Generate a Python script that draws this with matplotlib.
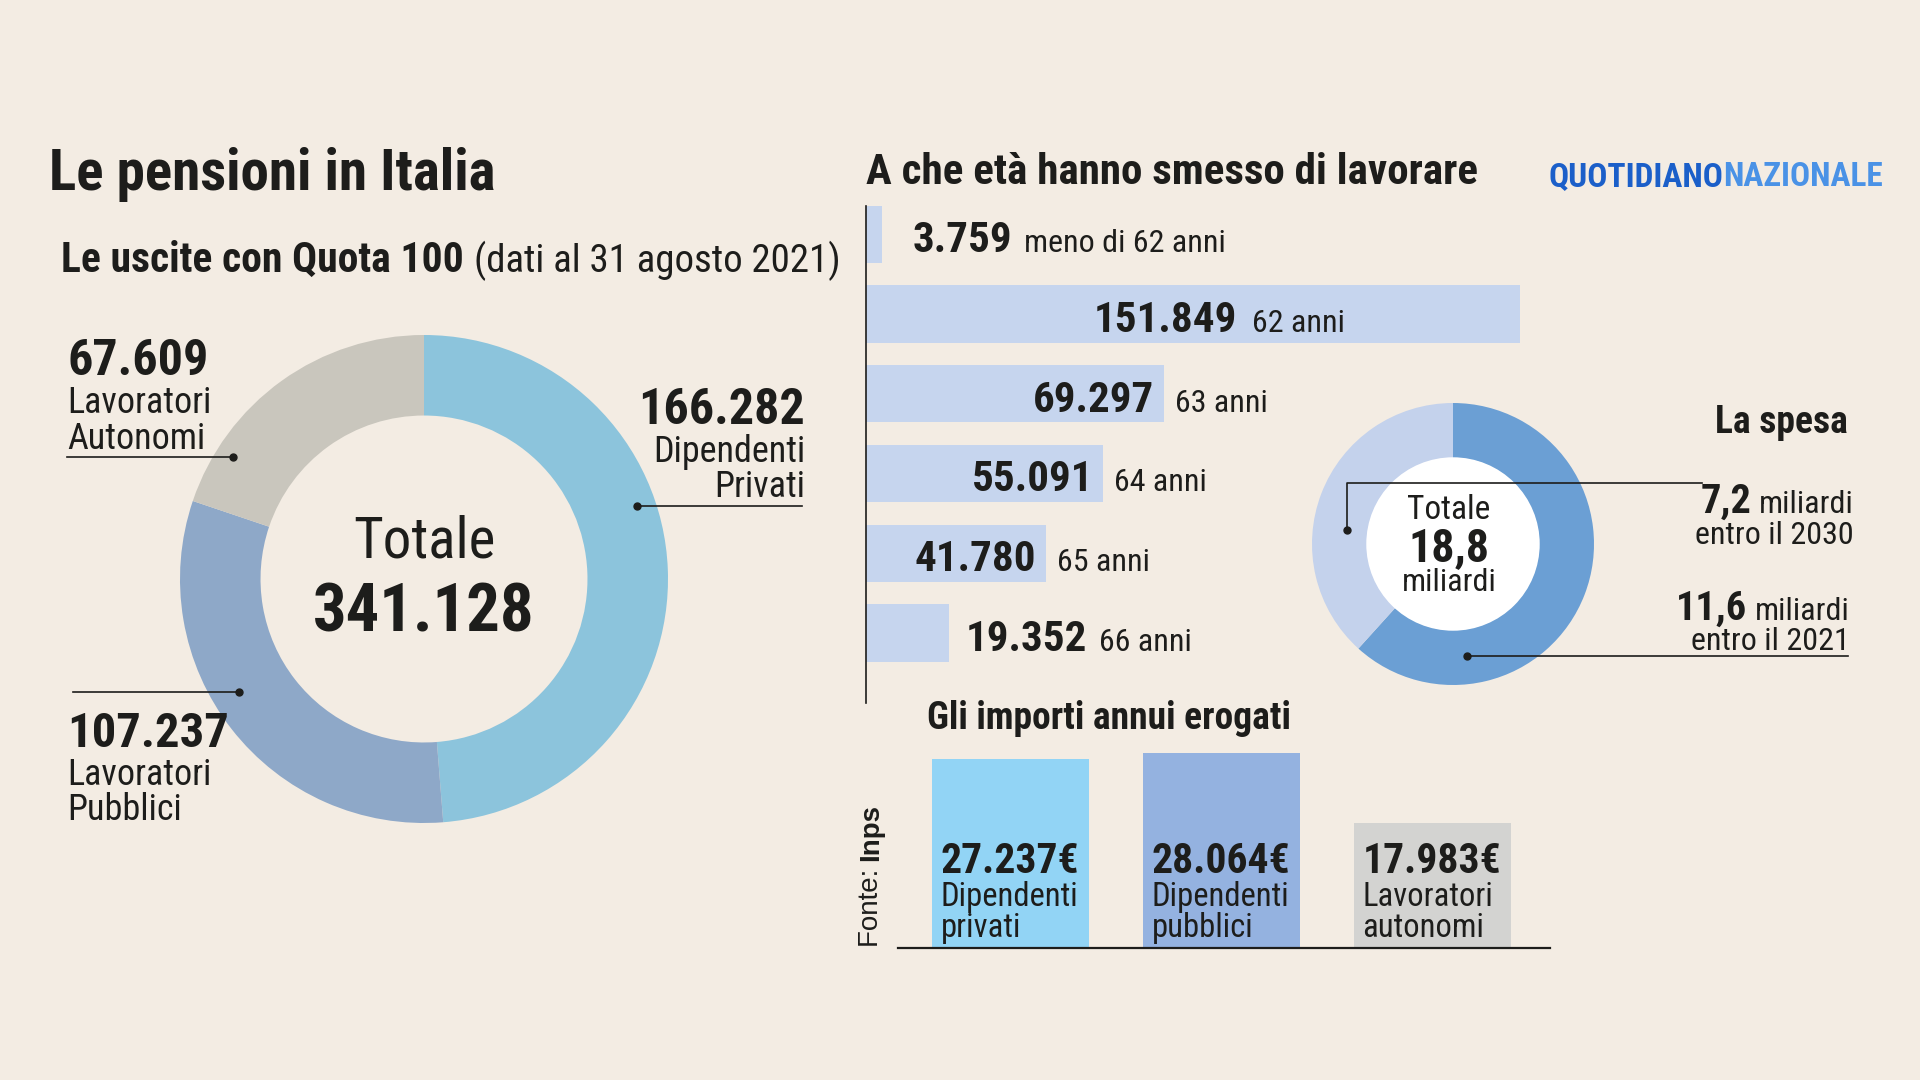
import matplotlib
matplotlib.use('Agg')
import matplotlib.pyplot as plt
import matplotlib.transforms as mtrans
from matplotlib.lines import Line2D
from matplotlib import font_manager as fm

W, H = 1920, 1080
BG = '#f3ece3'
INK = '#1d1d1b'

# Quota 100 exits by category
cat_names = [('Dipendenti', 'Privati'), ('Lavoratori', 'Pubblici'), ('Lavoratori', 'Autonomi')]
cat_values = [166282, 107237, 67609]
cat_colors = ['#8cc4dc', '#8ea8c8', '#c9c6bd']
cat_total = 341128

# age at retirement
age_labels = ['meno di 62 anni', '62 anni', '63 anni', '64 anni', '65 anni', '66 anni']
age_values = [3759, 151849, 69297, 55091, 41780, 19352]

# spending (billions)
spesa_values = [11.6, 7.2]
spesa_when = ['entro il 2021', 'entro il 2030']
spesa_total = 18.8

# yearly amounts
imp_values = [27237, 28064, 17983]
imp_names = [('Dipendenti', 'privati'), ('Dipendenti', 'pubblici'), ('Lavoratori', 'autonomi')]
imp_colors = ['#92d4f5', '#94b2e0', '#d3d3d1']


def it(v):
    return f'{v:,}'.replace(',', '.')


names = {f.name for f in fm.fontManager.ttflist}
NARROW = next((n for n in ['Liberation Sans Narrow', 'Roboto Condensed', 'Open Sans Condensed']
               if n in names), 'Roboto')
PLAIN = 'Liberation Sans'

fig = plt.figure(figsize=(W / 100, H / 100), dpi=100)
fig.patch.set_facecolor(BG)
R = fig.canvas.get_renderer()


def ftext(x, y, s, size, bold=False, ha='left', color=INK, family=None, **kw):
    return fig.text(x / W, 1 - y / H, s, fontsize=size, fontweight='bold' if bold else 'normal',
                    ha=ha, va='baseline', color=color, family=family or NARROW, **kw)


def pair(x, y, s1, s2, size1, size2, ha='left', gap=8):
    # bold part + regular part on one baseline
    if ha == 'left':
        t = ftext(x, y, s1, size1, True)
        x1 = t.get_window_extent(R).x1
        ftext(x1 + gap, y, s2, size2)
    else:
        t = ftext(x, y, s2, size2, ha='right')
        x0 = t.get_window_extent(R).x0
        ftext(x0 - gap, y, s1, size1, True, ha='right')


def leader(xs, ys, dot):
    fig.add_artist(Line2D([x / W for x in xs], [1 - y / H for y in ys], color=INK, lw=1.2))
    fig.add_artist(Line2D([dot[0] / W], [1 - dot[1] / H], marker='o', ms=5, color=INK, lw=0))


def add_axes(x0, y0, x1, y1):
    a = fig.add_axes([x0 / W, 1 - y1 / H, (x1 - x0) / W, (y1 - y0) / H])
    a.patch.set_alpha(0)
    return a


# ---- titles
ftext(49, 190, 'Le pensioni in Italia', 41, True)
pair(61, 272, 'Le uscite con Quota 100', '(dati al 31 agosto 2021)', 30, 28, gap=10)
ftext(866, 184, 'A che età hanno smesso di lavorare', 31, True)
t = ftext(1883, 186, 'NAZIONALE', 24, True, ha='right', color='#4a92e6')
ftext(t.get_window_extent(R).x0, 186, 'QUOTIDIANO', 24, True, ha='right', color='#1b5fc9')

# ---- left donut
cx, cy, r = 424, 579, 244
ax1 = add_axes(cx - r, cy - r, cx + r, cy + r)
ax1.pie(cat_values, colors=cat_colors, startangle=90, counterclock=False, radius=1,
        wedgeprops=dict(width=0.33, linewidth=0))
ax1.set_xlim(-1, 1)
ax1.set_ylim(-1, 1)
ax1.axis('off')
ftext(cx, 557, 'Totale', 41, ha='center')
ftext(cx, 631, it(cat_total), 48, True, ha='center')

# Dipendenti Privati (right)
ftext(805, 424, it(cat_values[0]), 36, True, ha='right')
ftext(805, 462, cat_names[0][0], 26, ha='right')
ftext(805, 497, cat_names[0][1], 26, ha='right')
leader([637, 802], [506, 506], (637, 506))
# Lavoratori Pubblici (lower left)
ftext(67, 747, it(cat_values[1]), 35, True)
ftext(67, 785, cat_names[1][0], 26)
ftext(67, 820, cat_names[1][1], 26)
leader([73, 239], [692, 692], (239, 692))
# Lavoratori Autonomi (upper left)
ftext(67, 375, it(cat_values[2]), 36, True)
ftext(67, 413, cat_names[2][0], 26)
ftext(67, 449, cat_names[2][1], 26)
leader([67, 233], [457, 457], (233, 457))

# ---- horizontal bars: age
ax3 = add_axes(866, 206, 866 + 689, 703)
ypos = list(range(len(age_values)))
ax3.barh(ypos, age_values, height=0.72, color='#c6d5ee', linewidth=0)
ax3.set_xlim(0, 160000)
ax3.set_ylim(len(age_values) - 0.125, -0.35)
ax3.set_xticks([])
ax3.set_yticks([])
for s in ['top', 'right', 'bottom']:
    ax3.spines[s].set_visible(False)
ax3.spines['left'].set_color(INK)
ax3.spines['left'].set_linewidth(1.2)

vmax = max(age_values)
num_kw = dict(va='baseline', fontsize=31, fontweight='bold', family=NARROW, color=INK)
for i, (v, lab) in enumerate(zip(age_values, age_labels)):
    if v == vmax:
        tr = mtrans.offset_copy(ax3.transData, fig=fig, x=0, y=-18, units='dots')
        t = ax3.text(v * 0.567, i, it(v), transform=tr, ha='right', **num_kw)
        lx = t.get_window_extent(R).x1 + 15
    elif v > 25000:
        tr = mtrans.offset_copy(ax3.transData, fig=fig, x=-10, y=-18, units='dots')
        t = ax3.text(v, i, it(v), transform=tr, ha='right', **num_kw)
        lx = ax3.transData.transform((v, i))[0] + 11
    else:
        pad = 30 if v < 10000 else 16
        tr = mtrans.offset_copy(ax3.transData, fig=fig, x=pad, y=-18, units='dots')
        t = ax3.text(v, i, it(v), transform=tr, ha='left', **num_kw)
        lx = t.get_window_extent(R).x1 + 12
    yb = ax3.transData.transform((0, i))[1] - 18
    fig.text(lx, yb, lab, transform=mtrans.IdentityTransform(), fontsize=23,
             family=NARROW, color=INK, va='baseline')

# ---- right donut: spending
dx, dy, dr = 1453, 544, 141
ax2 = add_axes(dx - dr, dy - dr, dx + dr, dy + dr)
ax2.pie(spesa_values, colors=['#6b9fd4', '#c4d2ec'], startangle=90, counterclock=False,
        radius=1, wedgeprops=dict(width=0.39, linewidth=0))
ax2.add_patch(plt.Circle((0, 0), 0.615, color='white', lw=0))
ax2.set_xlim(-1, 1)
ax2.set_ylim(-1, 1)
ax2.axis('off')
ftext(1449, 519, 'Totale', 24, ha='center')
ftext(1449, 561, f'{spesa_total:.1f}'.replace('.', ','), 33, True, ha='center')
ftext(1449, 591, 'miliardi', 23, ha='center')

ftext(1848, 433, 'La spesa', 27, True, ha='right')
pair(1854, 513, f'{spesa_values[1]:.1f}'.replace('.', ','), 'miliardi', 29, 23, ha='right', gap=8)
ftext(1854, 544, spesa_when[1], 23, ha='right')
pair(1850, 620, f'{spesa_values[0]:.1f}'.replace('.', ','), 'miliardi', 29, 23, ha='right', gap=8)
ftext(1850, 650, spesa_when[0], 23, ha='right')
leader([1702, 1347, 1347], [483, 483, 530], (1347, 530))
leader([1467, 1848], [656, 656], (1467, 656))

# ---- vertical bars: yearly amounts
ftext(927, 729, 'Gli importi annui erogati', 27, True)
ax4 = add_axes(898, 740, 1550, 948)
xs = list(range(len(imp_values)))
bw = 0.744
ax4.bar(xs, imp_values, width=bw, color=imp_colors, linewidth=0)
ax4.set_xlim(-0.531, 2.559)
ax4.set_ylim(0, 30000)
ax4.set_xticks([])
ax4.set_yticks([])
for s in ['top', 'right', 'left']:
    ax4.spines[s].set_visible(False)
ax4.spines['bottom'].set_color(INK)
ax4.spines['bottom'].set_linewidth(1.6)
for i, v in enumerate(imp_values):
    bx = ax4.transData.transform((i - bw / 2, 0))[0] + 9
    ftext(bx, 873, it(v) + '€', 30, True)
    ftext(bx, 906, imp_names[i][0], 23.5)
    ftext(bx, 937, imp_names[i][1], 23.5)

# source, rotated
t = fig.text(878 / W, 1 - 947 / H, 'Fonte: ', rotation=90, rotation_mode='anchor', ha='left',
             va='baseline', fontsize=20, family=PLAIN, color=INK)
top = t.get_window_extent(R).y1
fig.text(878 / W, top / H, 'Inps', rotation=90, rotation_mode='anchor', ha='left',
         va='baseline', fontsize=20, fontweight='bold', family=PLAIN, color=INK)

fig.savefig('out.png', dpi=100, facecolor=BG)
